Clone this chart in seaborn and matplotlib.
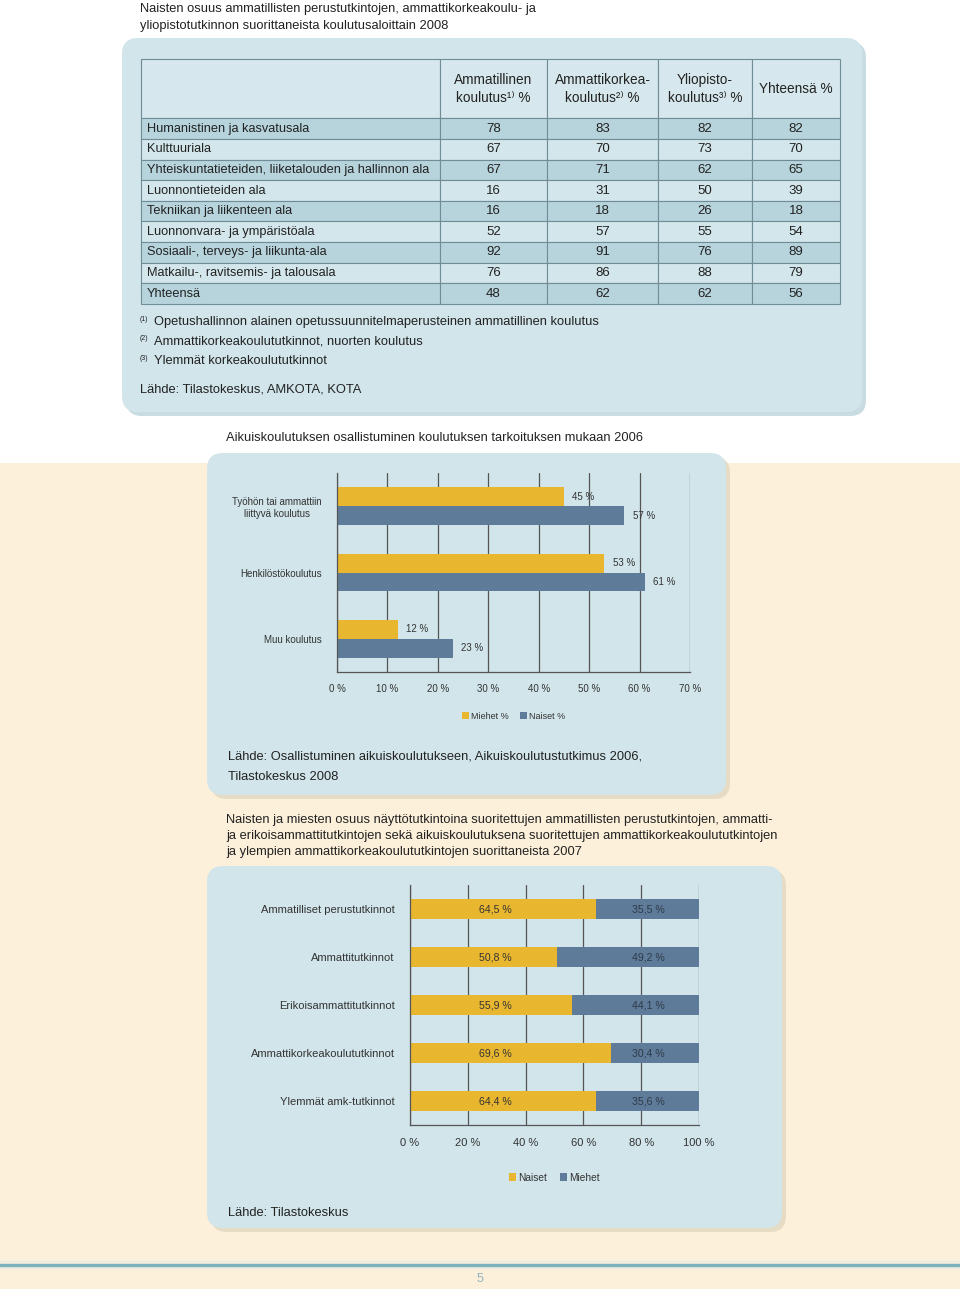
import pandas as pd
import seaborn as sns
import matplotlib.pyplot as plt
from matplotlib.patches import FancyBboxPatch, Rectangle
from matplotlib.font_manager import fontManager

# --- table: women's share by field, 2008 ---
table_header = ["", "Ammatillinen\nkoulutus¹⁾ %", "Ammattikorkea-\nkoulutus²⁾ %",
                "Yliopisto-\nkoulutus³⁾ %", "Yhteensä %"]
table_fields = ["Humanistinen ja kasvatusala", "Kulttuuriala",
                "Yhteiskuntatieteiden, liiketalouden ja hallinnon ala",
                "Luonnontieteiden ala", "Tekniikan ja liikenteen ala",
                "Luonnonvara- ja ympäristöala", "Sosiaali-, terveys- ja liikunta-ala",
                "Matkailu-, ravitsemis- ja talousala", "Yhteensä"]
ammatillinen = [78, 67, 67, 16, 16, 52, 92, 76, 48]
ammattikorkea = [83, 70, 71, 31, 18, 57, 91, 86, 62]
yliopisto = [82, 73, 62, 50, 26, 55, 76, 88, 62]
yhteensa = [82, 70, 65, 39, 18, 54, 89, 79, 56]
footnotes = ["Opetushallinnon alainen opetussuunnitelmaperusteinen ammatillinen koulutus",
             "Ammattikorkeakoulututkinnot, nuorten koulutus",
             "Ylemmät korkeakoulututkinnot"]

# --- chart 2: adult education participation 2006 ---
aikuis_cats = ["Työhön tai ammattiin\nliittyvä koulutus", "Henkilöstökoulutus", "Muu koulutus"]
aikuis_miehet = [45, 53, 12]
aikuis_naiset = [57, 61, 23]
aikuis_ticks = [0, 10, 20, 30, 40, 50, 60, 70]

# --- chart 3: competence-based qualifications 2007 ---
tutkinto_cats = ["Ammatilliset perustutkinnot", "Ammattitutkinnot", "Erikoisammattitutkinnot",
                 "Ammattikorkeakoulututkinnot", "Ylemmät amk-tutkinnot"]
tutkinto_naiset = [64.5, 50.8, 55.9, 69.6, 64.4]
tutkinto_miehet = [35.5, 49.2, 44.1, 30.4, 35.6]
tutkinto_ticks = [0, 20, 40, 60, 80, 100]

YELLOW = "#e8b72f"
BLUE = "#5e7b99"
PANEL = "#d1e5eb"
CREAM = "#fcf0da"
GRID = "#555555"
TXT = "#222222"

W, H = 960, 1289


def fig_rect(x0, y0, x1, y1):
    # pixel box (top-left origin) -> figure fraction
    return [x0 / W, 1 - y1 / H, (x1 - x0) / W, (y1 - y0) / H]


def panel(ax, x0, y0, x1, y1, shadow):
    ax.add_patch(FancyBboxPatch((x0 + 4, y0 + 4), x1 - x0, y1 - y0,
                                boxstyle="round,pad=0,rounding_size=16",
                                fc=shadow, ec="none"))
    ax.add_patch(FancyBboxPatch((x0, y0), x1 - x0, y1 - y0,
                                boxstyle="round,pad=0,rounding_size=16",
                                fc=PANEL, ec="none"))


def style_bar_axes(ax, ticks, n_cats, fs):
    ax.set_facecolor("none")
    ax.set_xticks(ticks)
    ax.set_xticklabels([f"{t} %" for t in ticks])
    ax.xaxis.grid(True, color=GRID, lw=0.9)
    ax.set_axisbelow(True)
    for s in ["top", "right"]:
        ax.spines[s].set_visible(False)
    for s in ["left", "bottom"]:
        ax.spines[s].set_color(GRID)
        ax.spines[s].set_linewidth(0.9)
    ax.set_xlabel("")
    ax.set_ylabel("")
    ax.set_yticks([i - 0.5 for i in range(n_cats + 1)], minor=True)
    ax.tick_params(axis="y", which="major", length=0, pad=11, labelsize=fs, labelcolor="#333333")
    ax.tick_params(axis="y", which="minor", length=3, color=GRID)
    ax.tick_params(axis="x", length=3, color=GRID, labelsize=fs, labelcolor="#333333", pad=6)
    for lbl in ax.get_yticklabels():
        lbl.set_multialignment("center")


sns.set_theme(style="white")
names = {f.name for f in fontManager.ttflist}
narrow = "Liberation Sans Narrow" in names
plt.rcParams["font.family"] = ["Liberation Sans", "DejaVu Sans"]

fig = plt.figure(figsize=(W / 100, H / 100), dpi=100)
fig.patch.set_facecolor("white")

# page background and panels
bg = fig.add_axes([0, 0, 1, 1], zorder=-5)
bg.set_xlim(0, W)
bg.set_ylim(H, 0)
bg.axis("off")
bg.add_patch(Rectangle((0, 463), W, H - 463, fc=CREAM, ec="none"))
panel(bg, 122, 38, 862, 412, "#c9dce2")
panel(bg, 207, 453, 726, 795, "#e6dcc6")
panel(bg, 207, 866, 782, 1228, "#e6dcc6")
bg.axhline(1261, color="#e6ece3", lw=1)
bg.axhline(1264.5, color="#7cb0bd", lw=2.5)
bg.axhline(1268, color="#e6ece3", lw=1)
bg.text(480, 1279, "5", ha="center", va="center", fontsize=9, color="#8fb4bf")

# texts of the first panel
bg.text(140, 17.5, "Naisten osuus ammatillisten perustutkintojen, ammattikorkeakoulu- ja\n"
        "yliopistotutkinnon suorittaneista koulutusaloittain 2008",
        ha="left", va="center", fontsize=9.3, color=TXT, linespacing=1.45)
for i, note in enumerate(footnotes):
    y = 322.5 + i * 19.5
    bg.text(140, y - 3, f"({i + 1})", ha="left", va="center", fontsize=5, color=TXT)
    bg.text(154, y, note, ha="left", va="center", fontsize=9.3, color=TXT)
bg.text(140, 390, "Lähde: Tilastokeskus, AMKOTA, KOTA", ha="left", va="center",
        fontsize=9.3, color=TXT)

# table
ax_t = fig.add_axes(fig_rect(141, 59, 840, 304))
ax_t.axis("off")
cell_text = [[f, str(a), str(b), str(c), str(d)]
             for f, a, b, c, d in zip(table_fields, ammatillinen, ammattikorkea, yliopisto, yhteensa)]
col_widths = [299, 107, 111, 94, 88]
tbl = ax_t.table(cellText=cell_text, colLabels=table_header, colWidths=col_widths,
                 cellLoc="center", bbox=[0, 0, 1, 1])
tbl.auto_set_font_size(False)
for (r, c), cell in tbl.get_celld().items():
    cell.set_edgecolor("#6f8c97")
    cell.set_linewidth(0.8)
    txt = cell.get_text()
    if r == 0:
        cell.set_height(59)
        cell.set_facecolor("#d6e8ed")
        txt.set_fontsize(9.8)
        txt.set_linespacing(1.35)
    else:
        cell.set_height(20.5)
        cell.set_facecolor("#b7d4dd" if r % 2 == 1 else "#d3e6ec")
        if c == 0:
            if narrow:
                txt.set_fontfamily(["Liberation Sans Narrow", "DejaVu Sans"])
                txt.set_fontsize(11)
            else:
                txt.set_fontsize(9.2)
            cell._loc = "left"
            cell.PAD = 0.02
            txt.set_horizontalalignment("left")
        else:
            txt.set_fontsize(9.5)
    txt.set_color(TXT)

# chart 2 title and source
bg.text(226, 438, "Aikuiskoulutuksen osallistuminen koulutuksen tarkoituksen mukaan 2006",
        ha="left", va="center", fontsize=9.3, color=TXT)
bg.text(228, 767, "Lähde: Osallistuminen aikuiskoulutukseen, Aikuiskoulutustutkimus 2006,\n"
        "Tilastokeskus 2008", ha="left", va="center", fontsize=9.3, color=TXT, linespacing=1.9)

ax2 = fig.add_axes(fig_rect(337, 473, 690, 672))
df2 = pd.DataFrame({
    "koulutus": aikuis_cats * 2,
    "osuus": aikuis_miehet + aikuis_naiset,
    "sukupuoli": ["Miehet %"] * len(aikuis_cats) + ["Naiset %"] * len(aikuis_cats),
})
sns.barplot(data=df2, x="osuus", y="koulutus", hue="sukupuoli", orient="h",
            palette=[YELLOW, BLUE], width=0.57, gap=0, saturation=1, linewidth=0,
            edgecolor="none", ax=ax2)
ax2.set_xlim(0, 70)
style_bar_axes(ax2, aikuis_ticks, len(aikuis_cats), 7)
for cont in ax2.containers:
    ax2.bar_label(cont, fmt="%d %%", padding=6, fontsize=7, color="#333333")
sns.move_legend(ax2, "upper center", bbox_to_anchor=(0.5, -0.16), ncol=2, frameon=False,
                title=None, fontsize=6.5, handlelength=0.8, handleheight=0.8,
                handletextpad=0.2, columnspacing=1.3, labelcolor="#333333")

# chart 3 title and source
bg.text(226, 836, "Naisten ja miesten osuus näyttötutkintoina suoritettujen ammatillisten perustutkintojen, ammatti-\n"
        "ja erikoisammattitutkintojen sekä aikuiskoulutuksena suoritettujen ammattikorkeakoulututkintojen\n"
        "ja ylempien ammattikorkeakoulututkintojen suorittaneista 2007",
        ha="left", va="center", fontsize=9.3, color=TXT, linespacing=1.5)
bg.text(228, 1213, "Lähde: Tilastokeskus", ha="left", va="center", fontsize=9.3, color=TXT)

ax3 = fig.add_axes(fig_rect(410, 885, 699, 1125))
df3 = pd.DataFrame({"tutkinto": tutkinto_cats, "Naiset": tutkinto_naiset, "Miehet": tutkinto_miehet})
df3["Yhteensä"] = df3["Naiset"] + df3["Miehet"]
sns.barplot(data=df3, x="Yhteensä", y="tutkinto", orient="h", color=BLUE, width=0.4,
            saturation=1, linewidth=0, edgecolor="none", label="Miehet", ax=ax3)
sns.barplot(data=df3, x="Naiset", y="tutkinto", orient="h", color=YELLOW, width=0.4,
            saturation=1, linewidth=0, edgecolor="none", label="Naiset", ax=ax3)
ax3.set_xlim(0, 100)
style_bar_axes(ax3, tutkinto_ticks, len(tutkinto_cats), 8)
# labels sit in fixed columns, as in the original
for i, (n, m) in enumerate(zip(tutkinto_naiset, tutkinto_miehet)):
    ax3.text(29.5, i, f"{n:.1f} %".replace(".", ","), ha="center", va="center",
             fontsize=7.6, color="#333333")
    ax3.text(82.5, i, f"{m:.1f} %".replace(".", ","), ha="center", va="center",
             fontsize=7.6, color="#2e3a48")
handles, labels = ax3.get_legend_handles_labels()
ax3.legend(handles[::-1], labels[::-1], loc="upper center", bbox_to_anchor=(0.5, -0.16),
           ncol=2, frameon=False, fontsize=7.3, handlelength=0.7, handleheight=0.7,
           handletextpad=0.2, columnspacing=1.3, labelcolor="#333333")

fig.savefig("out.png", dpi=100)
